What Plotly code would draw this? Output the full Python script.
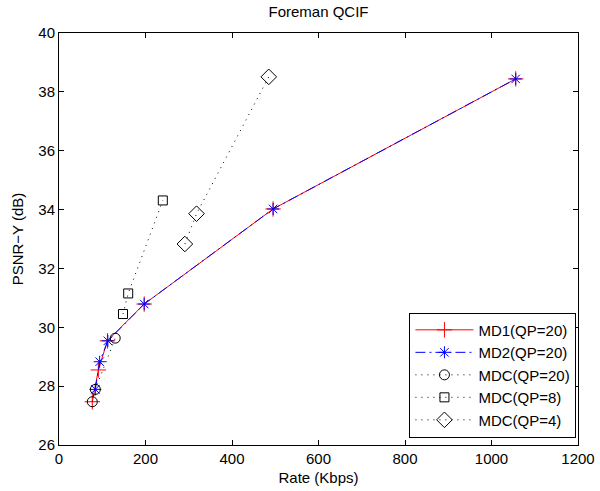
import plotly.graph_objects as go

# Data
md1_rate = [77, 91, 112, 197, 495, 1056]
md1_psnr = [27.47, 28.55, 29.54, 30.79, 34.02, 38.44]

md2_rate = [84, 94, 113, 197, 495, 1056]
md2_psnr = [27.89, 28.83, 29.54, 30.79, 34.02, 38.44]

mdc20_rate = [77, 84, 130]
mdc20_psnr = [27.47, 27.89, 29.63]

mdc8_rate = [148, 160, 240]
mdc8_psnr = [30.45, 31.15, 34.31]

mdc4_rate = [291, 318, 485]
mdc4_psnr = [32.83, 33.86, 38.51]

x_ticks = [0, 200, 400, 600, 800, 1000, 1200]
y_ticks = [26, 28, 30, 32, 34, 36, 38, 40]

FONT = "Liberation Sans, Arial, Helvetica, sans-serif"
FS = 15

fig = go.Figure()
fig.add_trace(go.Scatter(
    x=md1_rate, y=md1_psnr, name="MD1(QP=20)", mode="lines+markers",
    line=dict(color="red", width=1),
    marker=dict(symbol="cross-thin", size=11, line=dict(color="red", width=1), color="red")))
fig.add_trace(go.Scatter(
    x=md2_rate, y=md2_psnr, name="MD2(QP=20)", mode="lines+markers",
    line=dict(color="blue", width=1, dash="10px,4px,2px,4px"),
    marker=dict(symbol="asterisk-open", size=10, line=dict(color="blue", width=1), color="blue")))
for xs, ys, nm, sym, sz in [
    (mdc20_rate, mdc20_psnr, "MDC(QP=20)", "circle-open", 10),
    (mdc8_rate, mdc8_psnr, "MDC(QP=8)", "square-open", 9),
    (mdc4_rate, mdc4_psnr, "MDC(QP=4)", "diamond-open", 12),
]:
    fig.add_trace(go.Scatter(
        x=xs, y=ys, name=nm, mode="lines+markers",
        line=dict(color="black", width=1, dash="1px,5px"),
        marker=dict(symbol=sym, size=sz, line=dict(color="black", width=1), color="black")))

axis_common = dict(
    showline=True, linecolor="black", linewidth=1, mirror="ticks",
    ticks="inside", ticklen=5, tickcolor="black", tickwidth=1,
    showgrid=False, zeroline=False, automargin=False,
    tickfont=dict(family=FONT, size=FS, color="black"),
)

fig.update_layout(
    width=600, height=491,
    margin=dict(l=59, r=22, t=33, b=46),
    plot_bgcolor="white", paper_bgcolor="white",
    font=dict(family=FONT, size=FS, color="black"),
    title=dict(text="Foreman QCIF", x=0.5, xref="paper", xanchor="center",
               y=1 - 12 / 491, yref="container", yanchor="middle",
               font=dict(family=FONT, size=FS, color="black")),
    xaxis=dict(range=[0, 1200], tickvals=x_ticks, ticktext=[str(v) for v in x_ticks],
               title=dict(text="Rate (Kbps)", standoff=6, font=dict(family=FONT, size=FS)),
               **axis_common),
    yaxis=dict(range=[26, 40], tickvals=y_ticks, ticktext=[str(v) for v in y_ticks],
               title=dict(text="PSNR−Y (dB)", standoff=11, font=dict(family=FONT, size=FS)),
               **axis_common),
    legend=dict(x=0.997, y=0.018, xanchor="right", yanchor="bottom",
                bgcolor="white", bordercolor="black", borderwidth=1,
                font=dict(family=FONT, size=FS, color="black"),
                tracegroupgap=0, itemwidth=58),
    showlegend=True,
)

fig.write_html("out.html")
